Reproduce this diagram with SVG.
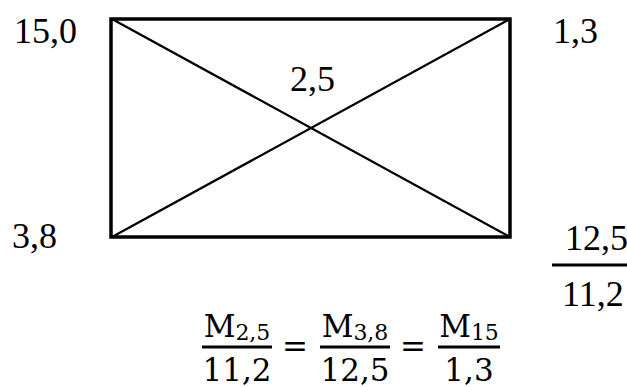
<svg xmlns="http://www.w3.org/2000/svg" width="627" height="387" viewBox="0 0 627 387">
<style>
.t{font-size:36px;fill:#000}
.m{font-size:31px;fill:#000}
.s{font-size:22px}
.frame{fill:none;stroke:#000;stroke-width:3.5}
.diag{stroke:#000;stroke-width:2.2}
.bar{stroke:#000;stroke-width:3}
</style>
<rect width="627" height="387" fill="#fff"/>
<g id="connectors">
<line class="diag" x1="112" y1="19" x2="510" y2="237"/>
<line class="diag" x1="510" y1="19" x2="112" y2="237"/>
</g>
<g id="frame"><rect class="frame" x="111" y="19" width="399" height="218"/></g>
<g font-family="'Liberation Serif', 'Times New Roman', 'DejaVu Serif', serif">
<g id="n15"><text class="t" x="14" y="43">15,0</text></g>
<g id="n13"><text class="t" x="553" y="43">1,3</text></g>
<g id="n25"><text class="t" x="290" y="91">2,5</text></g>
<g id="n38"><text class="t" x="12" y="248">3,8</text></g>
<g id="ratio"><text class="t" x="565" y="250">12,5</text><line class="bar" x1="552" y1="265" x2="627" y2="265"/><text class="t" x="562" y="306">11,2</text></g>
</g>
<g id="formula" font-family="'DejaVu Serif', 'Liberation Serif', serif">
<text class="m" x="237" y="337" text-anchor="middle">M<tspan class="s" dy="3">2,5</tspan></text>
<line class="bar" x1="202" y1="347" x2="272" y2="347"/>
<text class="m" x="237" y="381" text-anchor="middle">11,2</text>
<text class="m" x="295" y="357" text-anchor="middle">=</text>
<text class="m" x="355" y="337" text-anchor="middle">M<tspan class="s" dy="3">3,8</tspan></text>
<line class="bar" x1="320" y1="347" x2="390" y2="347"/>
<text class="m" x="355" y="381" text-anchor="middle">12,5</text>
<text class="m" x="413" y="357" text-anchor="middle">=</text>
<text class="m" x="469" y="337" text-anchor="middle">M<tspan class="s" dy="3">15</tspan></text>
<line class="bar" x1="438" y1="347" x2="500" y2="347"/>
<text class="m" x="469" y="381" text-anchor="middle">1,3</text>
</g>
</svg>
